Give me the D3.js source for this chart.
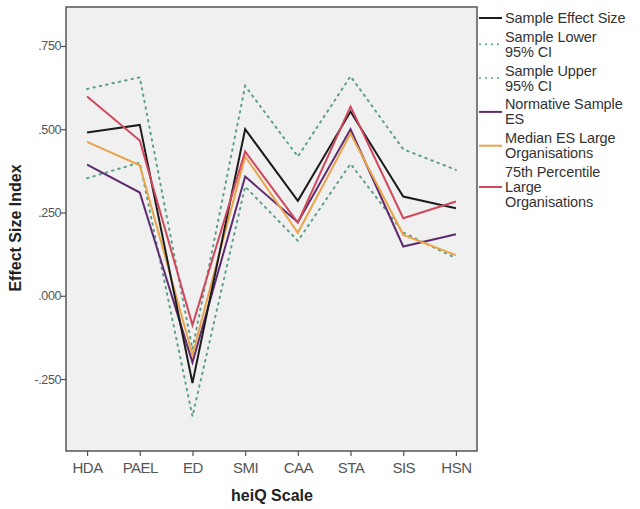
<!DOCTYPE html>
<html>
<head>
<meta charset="utf-8">
<script src="https://cdn.jsdelivr.net/npm/d3@7"></script>
<style>
  body { margin: 0; background: #fff; }
  svg text { font-family: "Liberation Sans", Arial, sans-serif; }
</style>
</head>
<body>
<svg id="chart" width="640" height="509"></svg>
<script>
const scales = ['HDA', 'PAEL', 'ED', 'SMI', 'CAA', 'STA', 'SIS', 'HSN']

const sampleES = [0.490, 0.513, -0.262, 0.500, 0.285, 0.553, 0.298, 0.263]
const sampleLower = [0.353, 0.400, -0.362, 0.328, 0.165, 0.396, 0.190, 0.113]
const sampleUpper = [0.621, 0.656, -0.160, 0.630, 0.418, 0.659, 0.440, 0.378]
const normativeES = [0.394, 0.310, -0.200, 0.358, 0.221, 0.500, 0.148, 0.185]
const medianLarge = [0.462, 0.392, -0.177, 0.418, 0.189, 0.487, 0.183, 0.122]
const p75Large = [0.598, 0.466, -0.088, 0.433, 0.220, 0.568, 0.233, 0.283]

const yTicks = [-0.25, 0, 0.25, 0.5, 0.75]

const series = [
  { name: ['Sample Effect Size'], values: sampleES, color: '#1c1c1c', dash: null },
  { name: ['Sample Lower', '95% CI'], values: sampleLower, color: '#5c9f86', dash: '1.5,5' },
  { name: ['Sample Upper', '95% CI'], values: sampleUpper, color: '#5c9f86', dash: '1.5,5' },
  { name: ['Normative Sample', 'ES'], values: normativeES, color: '#5e2b6e', dash: null },
  { name: ['Median ES Large', 'Organisations'], values: medianLarge, color: '#e9a44a', dash: null },
  { name: ['75th Percentile', 'Large', 'Organisations'], values: p75Large, color: '#d0485c', dash: null }
]

const frame = { left: 66, top: 7, right: 477, bottom: 451 }

const svg = d3.select('#chart')

const x = d3.scalePoint()
  .domain(scales)
  .range([frame.left, frame.right])
  .padding(0.4)

const y = d3.scaleLinear()
  .domain([-0.466, 0.867])
  .range([frame.bottom, frame.top])

svg.append('rect')
  .attr('x', frame.left)
  .attr('y', frame.top)
  .attr('width', frame.right - frame.left)
  .attr('height', frame.bottom - frame.top)
  .attr('fill', '#f0f0f0')
  .attr('stroke', '#555')
  .attr('stroke-width', 1.5)

const fmt = (v) => {
  const s = d3.format('.3f')(Math.abs(v)).replace(/^0/, '')
  return v < 0 ? '-' + s : s
}

const yAxis = svg.append('g')
  .attr('transform', `translate(${frame.left},0)`)
  .call(d3.axisLeft(y).tickValues(yTicks).tickSize(5).tickFormat(fmt))
yAxis.select('.domain').remove()
yAxis.selectAll('line').attr('stroke', '#555').attr('stroke-width', 1.2)
yAxis.selectAll('text')
  .attr('x', -5)
  .attr('fill', '#555')
  .attr('font-size', 12.5)
  .attr('letter-spacing', -0.4)

const xAxis = svg.append('g')
  .attr('transform', `translate(0,${frame.bottom})`)
  .call(d3.axisBottom(x).tickSize(5))
xAxis.select('.domain').remove()
xAxis.selectAll('line').attr('stroke', '#555').attr('stroke-width', 1.2)
xAxis.selectAll('text')
  .attr('y', 11)
  .attr('fill', '#555')
  .attr('font-size', 15)
  .attr('letter-spacing', -0.5)

const line = d3.line()
  .x((d, i) => x(scales[i]))
  .y((d) => y(d))

// CI first, then the solid series on top
const drawOrder = [1, 2, 3, 4, 0, 5]
drawOrder.forEach((k) => {
  const s = series[k]
  svg.append('path')
    .datum(s.values)
    .attr('d', line)
    .attr('fill', 'none')
    .attr('stroke', s.color)
    .attr('stroke-width', 2)
    .attr('stroke-linecap', s.dash ? 'round' : 'butt')
    .attr('stroke-dasharray', s.dash)
})

svg.append('text')
  .attr('x', 272)
  .attr('y', 501)
  .attr('text-anchor', 'middle')
  .attr('font-size', 16)
  .attr('font-weight', 'bold')
  .attr('fill', '#222')
  .text('heiQ Scale')

svg.append('text')
  .attr('transform', 'translate(21,228) rotate(-90)')
  .attr('text-anchor', 'middle')
  .attr('font-size', 16)
  .attr('font-weight', 'bold')
  .attr('fill', '#222')
  .text('Effect Size Index')

// legend
const lineH = 15
const gap = 3.8
let cy = 18
series.forEach((s) => {
  const n = s.name.length
  const g = svg.append('g')
  s.name.forEach((t, j) => {
    g.append('text')
      .attr('x', 505)
      .attr('y', cy + j * lineH)
      .attr('dy', '0.35em')
      .attr('font-size', 14.5)
      .attr('letter-spacing', -0.1)
      .attr('fill', '#333')
      .text(t)
  })
  const ly = cy + (n - 1) * lineH / 2
  g.append('line')
    .attr('x1', 479)
    .attr('x2', 502)
    .attr('y1', ly)
    .attr('y2', ly)
    .attr('stroke', s.color)
    .attr('stroke-width', s.dash ? 1.5 : 2)
    .attr('stroke-dasharray', s.dash ? '2,4' : null)
  cy += n * lineH + gap
})
</script>
</body>
</html>
